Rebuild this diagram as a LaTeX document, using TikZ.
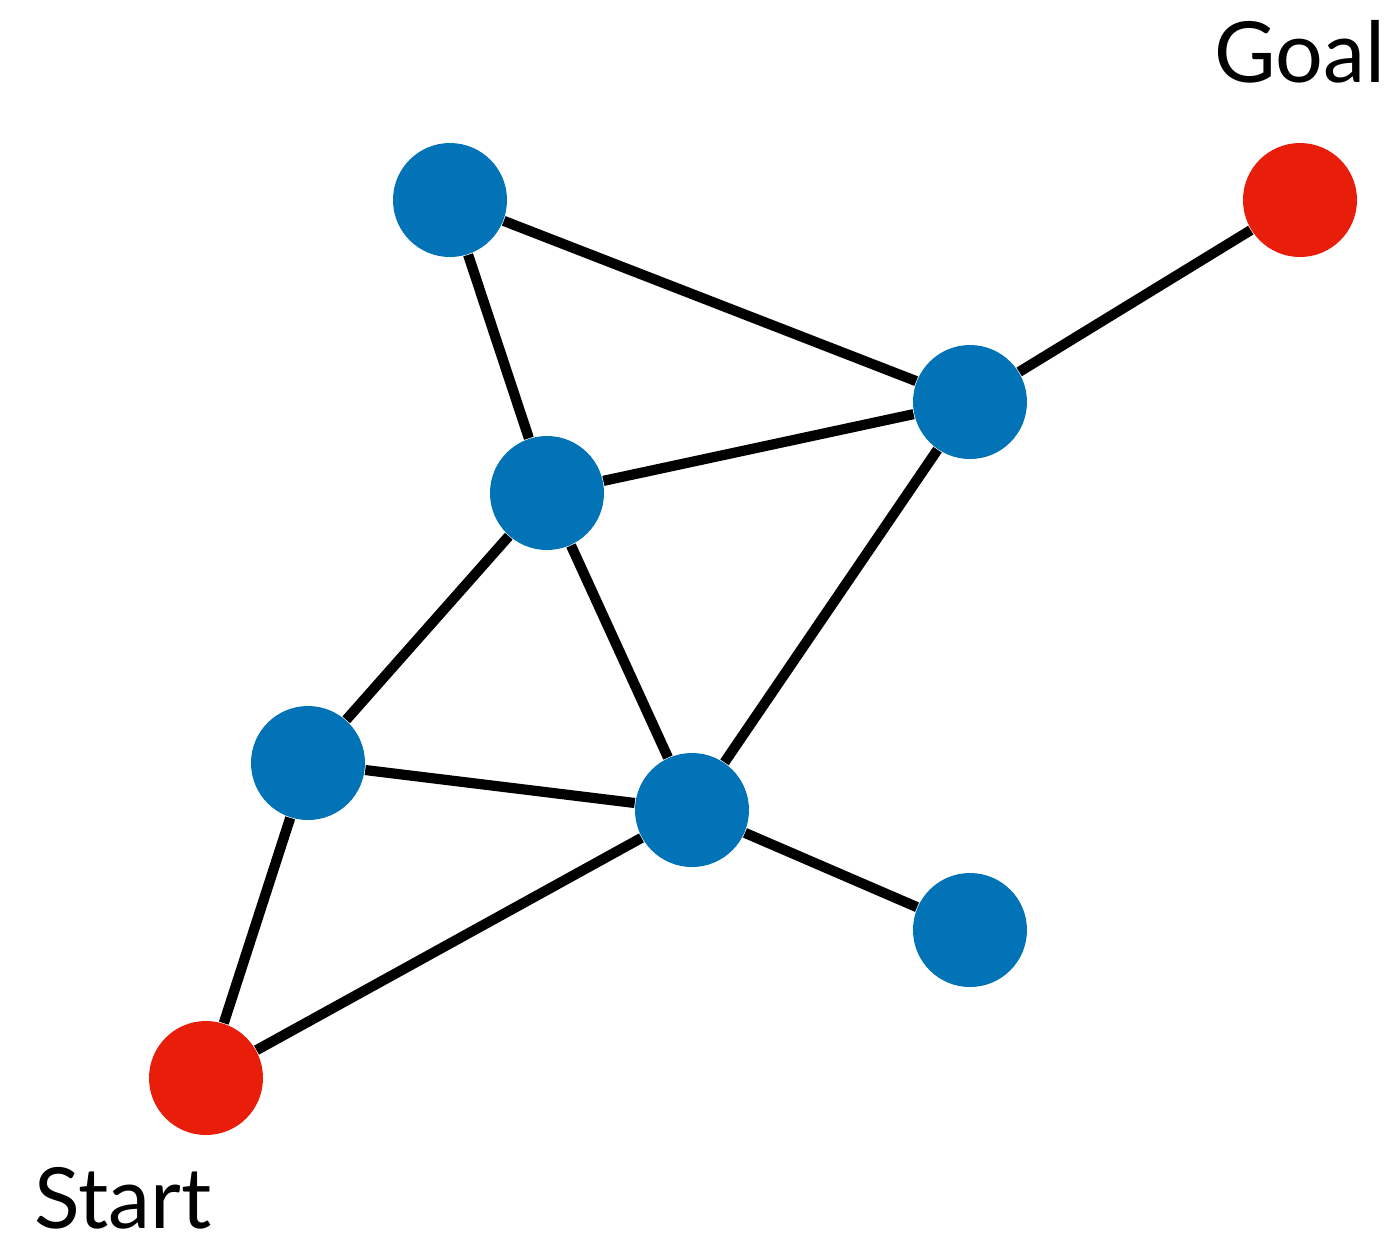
\documentclass[tikz,border=0pt]{standalone}
\usepackage{fontspec}
\setmainfont{Lato}
\usepackage{tikz}
\definecolor{vblue}{RGB}{3,115,183}
\definecolor{vred}{RGB}{232,30,10}
\tikzset{
  vertex/.style={circle,fill=vblue,minimum size=1.14cm,inner sep=0pt},
  endvertex/.style={vertex,fill=vred},
  edge/.style={line width=2.9pt},
  tag/.style={font=\fontsize{24}{28}\selectfont,anchor=base}
}
\begin{document}
\begin{tikzpicture}
\useasboundingbox(0,0)rectangle(13.93,-12.43);
%vertices
\node[vertex](top)at(4.50,-2.00){};
\node[endvertex](goal)at(13.00,-2.00){};
\node[vertex](hub)at(9.70,-4.02){};
\node[vertex](mid)at(5.47,-4.93){};
\node[vertex](left)at(3.08,-7.63){};
\node[vertex](low)at(6.92,-8.10){};
\node[vertex](leaf)at(9.70,-9.30){};
\node[endvertex](start)at(2.06,-10.78){};
%edges
\draw[edge](top)--(hub);
\draw[edge](top)--(mid);
\draw[edge](goal)--(hub);
\draw[edge](mid)--(hub);
\draw[edge](mid)--(left);
\draw[edge](mid)--(low);
\draw[edge](hub)--(low);
\draw[edge](left)--(low);
\draw[edge](left)--(start);
\draw[edge](start)--(low);
\draw[edge](low)--(leaf);
%labels
\node[tag](goaltag)at(13.00,-0.82){Goal};
\node[tag](starttag)at(1.23,-12.28){Start};
\end{tikzpicture}
\end{document}
